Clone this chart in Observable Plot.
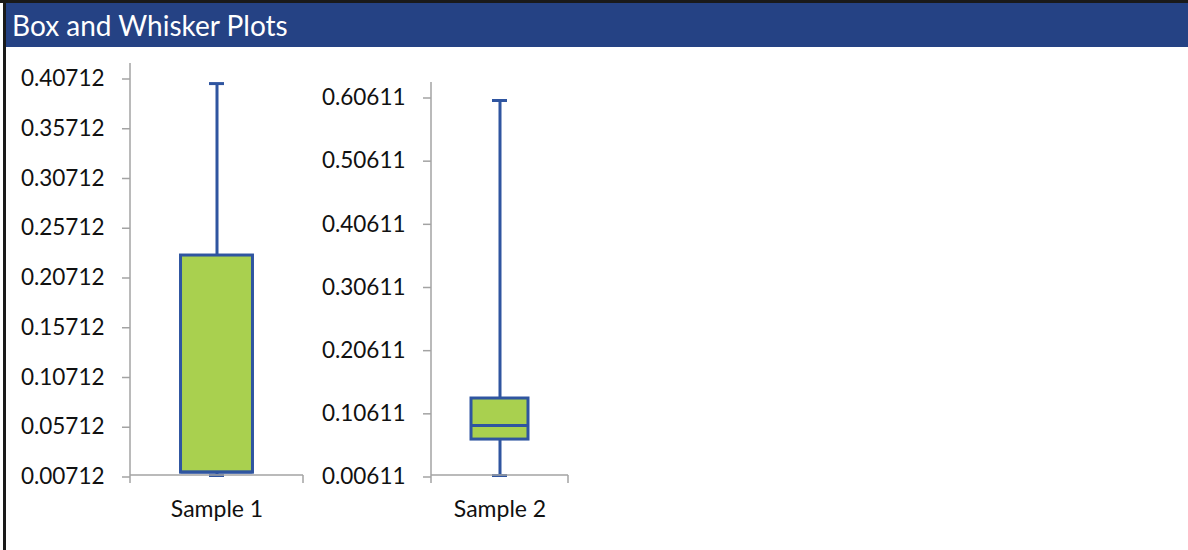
<!DOCTYPE html>
<html>
<head>
<meta charset="utf-8">
<script src="https://cdn.jsdelivr.net/npm/d3@7"></script>
<script src="https://cdn.jsdelivr.net/npm/@observablehq/plot@0.6"></script>
<style>
  body { margin: 0; background: #fff; }
  #frame { position: relative; width: 1188px; height: 550px; overflow: hidden; background: #fff; }
  #topborder { position: absolute; left: 0; top: 0; width: 1188px; height: 3px; background: #1a1a1a; }
  #leftborder { position: absolute; left: 3px; top: 0; width: 3px; height: 550px; background: #1a1a1a; }
  #title { position: absolute; left: 6px; top: 3px; width: 1182px; height: 44px; background: #254284; color: #fff;
           font-family: Lato, "Open Sans", sans-serif; font-size: 28px; line-height: 44px; padding-left: 6px; box-sizing: border-box; white-space: nowrap; }
  .chart { position: absolute; top: 50px; }
</style>
</head>
<body>
<div id="frame">
  <div id="topborder"></div>
  <div id="leftborder"></div>
  <div id="title">Box and Whisker Plots</div>
  <div id="c1" class="chart" style="left:0px"></div>
  <div id="c2" class="chart" style="left:310px"></div>
</div>
<script>
// ---- data ----
const samples = ["Sample 1", "Sample 2"];
const mins    = [0.00712, 0.00611];
const q1s     = [0.0100, 0.0630];
const medians = [0.0107, 0.0853];
const q3s     = [0.2282, 0.1280];
const maxs    = [0.4010, 0.5998];
const axisMins = [0.00712, 0.00611];
const axisMaxs = [0.40712, 0.60611];
const ticks1 = [0.00712, 0.05712, 0.10712, 0.15712, 0.20712, 0.25712, 0.30712, 0.35712, 0.40712];
const ticks2 = [0.00611, 0.10611, 0.20611, 0.30611, 0.40611, 0.50611, 0.60611];
const tickSets = [ticks1, ticks2];

// ---- style ----
const AXIS = "#a3a3a3";
const BOX_FILL = "#a9d04f";
const BOX_STROKE = "#2f55a0";
const FONT = "Lato, 'Open Sans', sans-serif";

function boxPlot(i, container, layout) {
  const data = [{sample: samples[i], min: mins[i], q1: q1s[i], median: medians[i], q3: q3s[i], max: maxs[i]}];
  const band = layout.width - layout.marginLeft - layout.marginRight;
  const boxInset = band * 0.292;
  const capInset = (band - 15) / 2;
  const plot = Plot.plot({
    width: layout.width,
    height: 475,
    marginLeft: layout.marginLeft,
    marginRight: layout.marginRight,
    marginTop: layout.marginTop,
    marginBottom: 50,
    style: {fontFamily: FONT, fontSize: "22px", color: "#111", background: "transparent", overflow: "visible"},
    x: {domain: [samples[i]], padding: 0},
    y: {domain: [axisMins[i], axisMaxs[i]]},
    marks: [
      Plot.axisY({ticks: tickSets[i], tickFormat: d => d.toFixed(5), tickSize: 8, tickPadding: 18,
                  stroke: AXIS, strokeWidth: 1.5, fontSize: 22.5, fill: "#111", label: null, dy: 1.5}),
      Plot.axisX({tickSize: 0, tickPadding: 25, fontSize: 23, fill: "#111", label: null}),
      Plot.ruleX(data, {x: "sample", y1: "min", y2: "max", stroke: BOX_STROKE, strokeWidth: 3}),
      Plot.tickY(data, {x: "sample", y: "max", stroke: BOX_STROKE, strokeWidth: 3, insetLeft: capInset, insetRight: capInset}),
      Plot.tickY(data, {x: "sample", y: "min", stroke: BOX_STROKE, strokeWidth: 3, insetLeft: capInset, insetRight: capInset}),
      Plot.barY(data, {x: "sample", y1: "q1", y2: "q3", fill: BOX_FILL, stroke: BOX_STROKE, strokeWidth: 3,
                       insetLeft: boxInset, insetRight: boxInset}),
      Plot.tickY(data, {x: "sample", y: "median", stroke: BOX_STROKE, strokeWidth: 3, insetLeft: boxInset, insetRight: boxInset})
    ]
  });
  // axis lines (Excel style), drawn on top of the marks
  const xs = plot.scale("x"), ys = plot.scale("y");
  const [x0, x1] = xs.range;
  const yb = ys.apply(axisMins[i]);
  const yt = ys.apply(axisMaxs[i]) - 14;
  const g = d3.select(plot).append("g").attr("stroke", AXIS).attr("stroke-width", 1.5);
  g.append("line").attr("x1", x0).attr("x2", x0).attr("y1", yt).attr("y2", yb + 8);
  g.append("line").attr("x1", x0).attr("x2", x1).attr("y1", yb).attr("y2", yb);
  g.append("line").attr("x1", x1).attr("x2", x1).attr("y1", yb).attr("y2", yb + 8);
  container.appendChild(plot);
}

boxPlot(0, document.getElementById("c1"), {width: 313, marginLeft: 130, marginRight: 10, marginTop: 27});
boxPlot(1, document.getElementById("c2"), {width: 268, marginLeft: 121, marginRight: 10, marginTop: 46});
</script>
</body>
</html>
